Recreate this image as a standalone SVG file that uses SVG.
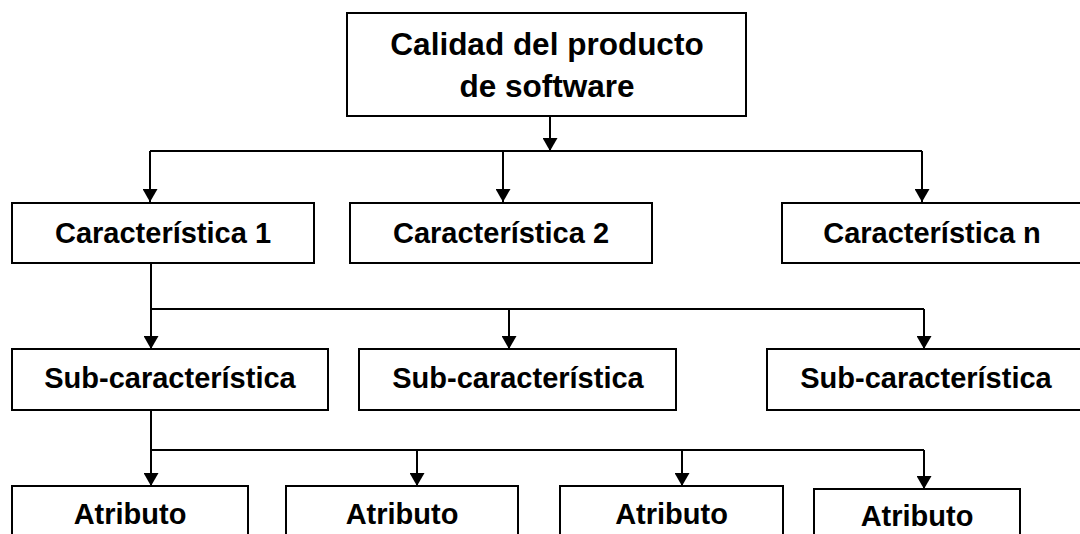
<svg xmlns="http://www.w3.org/2000/svg" width="1080" height="534" viewBox="0 0 1080 534">
<defs>
<marker id="ah" viewBox="0 0 13 15" refX="13" refY="7.5" markerWidth="13" markerHeight="15" markerUnits="userSpaceOnUse" orient="auto">
<path d="M0,0 L13,7.5 L0,15 Z" fill="#000"/>
</marker>
<style>
.box{fill:#fff;stroke:#000;stroke-width:2}
.t{font-family:"Liberation Sans",Arial,sans-serif;font-weight:bold;font-size:29px;fill:#000;text-anchor:middle}
.c{fill:none;stroke:#000;stroke-width:2}
</style>
</defs>
<rect width="1080" height="534" fill="#fff"/>
<g id="connectors">
<line class="c" x1="550" y1="116" x2="550" y2="151" marker-end="url(#ah)"/>
<line class="c" x1="150" y1="151" x2="922" y2="151"/>
<line class="c" x1="150" y1="151" x2="150" y2="202" marker-end="url(#ah)"/>
<line class="c" x1="503" y1="151" x2="503" y2="202" marker-end="url(#ah)"/>
<line class="c" x1="922" y1="151" x2="922" y2="202" marker-end="url(#ah)"/>
<line class="c" x1="151" y1="263" x2="151" y2="349" marker-end="url(#ah)"/>
<line class="c" x1="151" y1="309" x2="924" y2="309"/>
<line class="c" x1="509" y1="309" x2="509" y2="349" marker-end="url(#ah)"/>
<line class="c" x1="924" y1="309" x2="924" y2="349" marker-end="url(#ah)"/>
<line class="c" x1="151" y1="410" x2="151" y2="486" marker-end="url(#ah)"/>
<line class="c" x1="151" y1="450" x2="924" y2="450"/>
<line class="c" x1="417" y1="450" x2="417" y2="486" marker-end="url(#ah)"/>
<line class="c" x1="682" y1="450" x2="682" y2="486" marker-end="url(#ah)"/>
<line class="c" x1="924" y1="450" x2="924" y2="489" marker-end="url(#ah)"/>
</g>
<g id="root">
<rect class="box" x="347" y="13" width="399" height="103"/>
<text class="t" x="547" y="55" style="font-size:31.5px">Calidad del producto</text>
<text class="t" x="547" y="97" style="font-size:31.5px">de software</text>
</g>
<g id="char1">
<rect class="box" x="12" y="203" width="302" height="60"/>
<text class="t" x="163" y="243">Característica 1</text>
</g>
<g id="char2">
<rect class="box" x="350" y="203" width="302" height="60"/>
<text class="t" x="501" y="243">Característica 2</text>
</g>
<g id="charn">
<rect class="box" x="782" y="203" width="310" height="60"/>
<text class="t" x="932" y="243">Característica n</text>
</g>
<g id="sub1">
<rect class="box" x="12" y="349" width="316" height="61"/>
<text class="t" x="170" y="388">Sub-característica</text>
</g>
<g id="sub2">
<rect class="box" x="359" y="349" width="317" height="61"/>
<text class="t" x="518" y="388">Sub-característica</text>
</g>
<g id="subn">
<rect class="box" x="767" y="349" width="325" height="61"/>
<text class="t" x="926" y="388">Sub-característica</text>
</g>
<g id="attr1">
<rect class="box" x="12" y="486" width="236" height="60"/>
<text class="t" x="130" y="524">Atributo</text>
</g>
<g id="attr2">
<rect class="box" x="286" y="486" width="232" height="60"/>
<text class="t" x="402" y="524">Atributo</text>
</g>
<g id="attr3">
<rect class="box" x="560" y="486" width="223" height="60"/>
<text class="t" x="671.5" y="524">Atributo</text>
</g>
<g id="attr4">
<rect class="box" x="814" y="489" width="206" height="60"/>
<text class="t" x="917" y="526">Atributo</text>
</g>
</svg>
